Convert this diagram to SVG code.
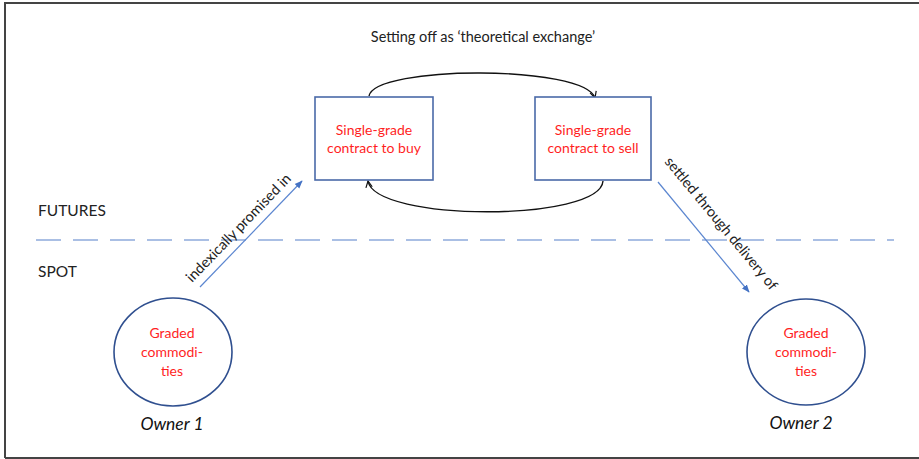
<svg xmlns="http://www.w3.org/2000/svg" width="919" height="459" viewBox="0 0 919 459">
<defs>
<style>
.t{font-family:Lato,"Open Sans","Liberation Sans",sans-serif;}
.red{fill:#ff1f1f;font-size:14px;text-anchor:middle;}
.lbl{fill:#222;font-size:14.5px;}
.box{fill:#fff;stroke:#4a6aa8;stroke-width:1.6;}
.ell{fill:#fff;stroke:#2f4f8f;stroke-width:1.6;}
.arc{fill:none;stroke:#111;stroke-width:1.4;}
.blu{fill:none;stroke:#5b86d0;stroke-width:1.2;}
</style>
<marker id="ah" viewBox="0 0 10 10" refX="9" refY="5" markerWidth="8" markerHeight="8" orient="auto" markerUnits="userSpaceOnUse"><path d="M1,1 L9,5 L1,9" fill="none" stroke="#111" stroke-width="1.5"/></marker>
<marker id="bh" viewBox="0 0 10 10" refX="9" refY="5" markerWidth="8" markerHeight="8" orient="auto" markerUnits="userSpaceOnUse"><path d="M0,1 L10,5 L0,9 Z" fill="#4472c4"/></marker>
</defs>
<rect width="919" height="459" fill="#fff"/>
<path d="M5,458 V3 H919 M5,458 H919" fill="none" stroke="#444" stroke-width="2"/>
<line x1="36" y1="240" x2="894" y2="240" stroke="#8faadc" stroke-width="1.4" stroke-dasharray="25 12"/>
<text class="t" x="38" y="216" font-size="15.5" fill="#222">FUTURES</text>
<text class="t" x="38" y="277" font-size="15.5" fill="#222">SPOT</text>
<text class="t lbl" x="483" y="42" text-anchor="middle" font-size="15">Setting off as ‘theoretical exchange’</text>
<g id="connectors">
<path class="arc" d="M369,96 C375,65 585,65 595,98" marker-end="url(#ah)"/>
<path class="arc" d="M603,181 C600,222 375,222 368,181" marker-end="url(#ah)"/>
<line class="blu" x1="200" y1="287" x2="302" y2="181" marker-end="url(#bh)"/>
<line class="blu" x1="658" y1="182" x2="749" y2="292" marker-end="url(#bh)"/>
<text class="t lbl" transform="translate(192,283) rotate(-46)">indexically promised in</text>
<text class="t lbl" transform="translate(664,162) rotate(50.4)">settled through delivery of</text>
</g>
<g id="buy">
<rect class="box" x="315" y="97" width="118" height="83"/>
<text class="t red" x="374" y="135">Single-grade</text>
<text class="t red" x="374" y="153">contract to buy</text>
</g>
<g id="sell">
<rect class="box" x="535" y="97" width="116" height="83"/>
<text class="t red" x="593" y="135">Single-grade</text>
<text class="t red" x="593" y="153">contract to sell</text>
</g>
<g id="owner1">
<ellipse class="ell" cx="173" cy="352" rx="59" ry="54"/>
<text class="t red" x="172" y="338">Graded</text>
<text class="t red" x="172" y="357">commodi-</text>
<text class="t red" x="172" y="376">ties</text>
<text class="t" x="172" y="430" font-size="17.5" font-style="italic" fill="#111" text-anchor="middle">Owner 1</text>
</g>
<g id="owner2">
<ellipse class="ell" cx="806" cy="352" rx="59" ry="53"/>
<text class="t red" x="806" y="338">Graded</text>
<text class="t red" x="806" y="357">commodi-</text>
<text class="t red" x="806" y="376">ties</text>
<text class="t" x="801" y="429" font-size="17.5" font-style="italic" fill="#111" text-anchor="middle">Owner 2</text>
</g>
</svg>
